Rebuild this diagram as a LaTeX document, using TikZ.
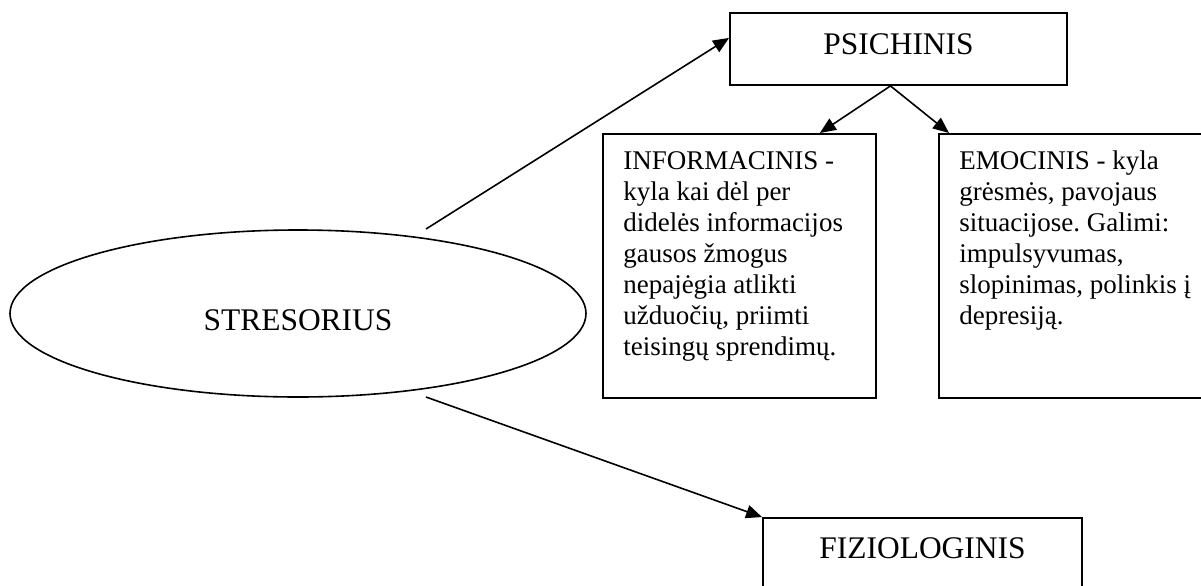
\documentclass[tikz,border=0pt]{standalone}
\usepackage{fontspec}
\setmainfont{Liberation Serif}
\usetikzlibrary{arrows.meta,calc,shapes.geometric}
\frenchspacing
\begin{document}
\begin{tikzpicture}[x=0.75pt,y=-0.75pt,
  box/.style={draw,line width=1.4pt,rectangle,inner sep=0pt},
  oval/.style={draw,line width=1.2pt,ellipse,inner sep=0pt,minimum width=432pt,minimum height=125.25pt},
  title/.style={font=\fontsize{23.6pt}{28pt}\selectfont,text depth=0pt},
  body/.style={font=\fontsize{20.25pt}{23.25pt}\selectfont,inner sep=0pt,anchor=base west},
  conn/.style={line width=1.2pt,-{Triangle[length=12pt,width=10pt]}}]
\useasboundingbox (0,0) rectangle (1201,585);
% nodes
\node[oval,title,text height=24.75pt] (stres) at (298,313.5) {STRESORIUS};
\node[box,title,minimum width=252.75pt,minimum height=54pt,text height=9pt] (psi) at (898.5,49) {PSICHINIS};
\node[box,anchor=north west,minimum width=204.75pt,minimum height=198pt] (info) at (602,133) {};
\node[box,anchor=north west,minimum width=204.75pt,minimum height=198pt] (emo) at (938,133) {};
\node[box,title,minimum width=239.25pt,minimum height=54pt,text height=6pt] (fiz) at (922.5,554) {FIZIOLOGINIS};
\node[body] (infotxt) at ($(info.north west)+(21,36)$) {\parbox[t]{200pt}{\raggedright
INFORMACINIS -\\
kyla kai dėl per\\
didelės informacijos\\
gausos žmogus\\
nepajėgia atlikti\\
užduočių, priimti\\
teisingų sprendimų.}};
\node[body] (emotxt) at ($(emo.north west)+(21,36)$) {\parbox[t]{200pt}{\raggedright
EMOCINIS - kyla\\
grėsmės, pavojaus\\
situacijose. Galimi:\\
impulsyvumas,\\
slopinimas, polinkis į\\
depresiją.}};
% connectors
\coordinate (s1) at (426,229);
\coordinate (s2) at (426,397);
\draw[conn] (s1) -- ($(psi.north west)!0.35!(psi.south west)$);
\draw[conn] (s2) -- (fiz.north west);
\draw[conn] ($(psi.south)+(-8,0)$) -- ($(info.north east)+(-57,0)$);
\draw[conn] ($(psi.south)+(-8,0)$) -- ($(emo.north west)+(11,0)$);
\end{tikzpicture}
\end{document}
